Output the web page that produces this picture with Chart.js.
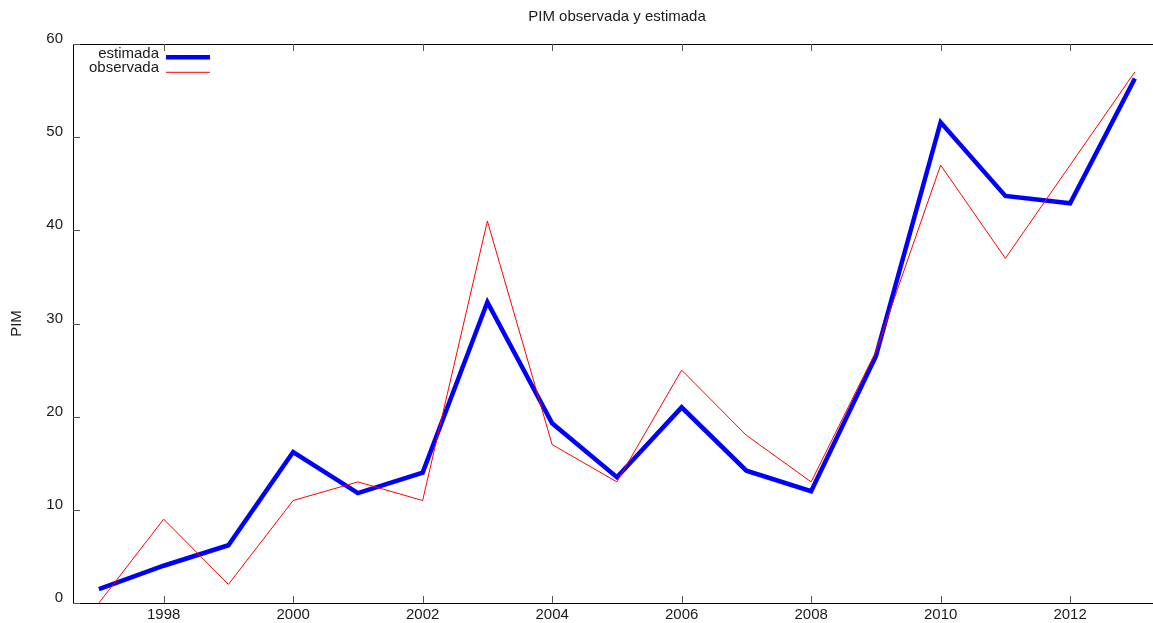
<!DOCTYPE html>
<html>
<head>
<meta charset="utf-8">
<script src="https://cdn.jsdelivr.net/npm/chart.js@4"></script>
<style>
  html, body { margin: 0; padding: 0; background: #fff; }
  canvas { display: block; }
</style>
</head>
<body>
<canvas id="c" width="1153" height="623"></canvas>
<script>
// Annual series
const years = [1997, 1998, 1999, 2000, 2001, 2002, 2003, 2004, 2005, 2006, 2007, 2008, 2009, 2010, 2011, 2012, 2013];
const estimada = [1.5, 4.0, 6.2, 16.2, 11.8, 14.0, 32.3, 19.3, 13.5, 21.0, 14.2, 12.0, 26.5, 51.6, 43.7, 42.9, 56.3];
const observada = [0, 9, 2, 11, 13, 11, 41, 17, 13, 25, 18, 13, 27, 47, 37, 47, 57];

// Axis ticks and texts
const xTickYears = [1998, 2000, 2002, 2004, 2006, 2008, 2010, 2012];
const yTickValues = [0, 10, 20, 30, 40, 50, 60];
const chartTitle = 'PIM observada y estimada';
const yAxisTitle = 'PIM';

const FONT = '"Liberation Sans", Arial, Helvetica, sans-serif';
const TEXT = '#1a1a1a';
Chart.defaults.font.family = FONT;
Chart.defaults.font.size = 15;
Chart.defaults.color = TEXT;

const toPoints = vals => years.map((yr, i) => ({ x: yr, y: vals[i] }));

// Boxed frame with inward tick marks
const frame = {
  id: 'frame',
  beforeDatasetsDraw(chart) {
    const { ctx, chartArea: a, scales: { x, y } } = chart;
    ctx.save();
    ctx.strokeStyle = '#000';
    ctx.lineWidth = 1;
    ctx.strokeRect(Math.round(a.left) + 0.5, Math.round(a.top) + 0.5,
                   Math.round(a.right - a.left), Math.round(a.bottom - a.top));
    ctx.strokeStyle = '#555';
    ctx.beginPath();
    x.ticks.forEach(t => {
      const px = Math.round(x.getPixelForValue(t.value)) + 0.5;
      ctx.moveTo(px, a.bottom); ctx.lineTo(px, a.bottom - 7);
      ctx.moveTo(px, a.top); ctx.lineTo(px, a.top + 7);
    });
    y.ticks.forEach(t => {
      const py = Math.round(y.getPixelForValue(t.value)) + 0.5;
      ctx.moveTo(a.left, py); ctx.lineTo(a.left + 7, py);
    });
    ctx.stroke();
    ctx.restore();
  }
};

// Title above the frame
const topTitle = {
  id: 'topTitle',
  afterDraw(chart) {
    const { ctx, chartArea: a } = chart;
    ctx.save();
    ctx.font = '15px ' + FONT;
    ctx.fillStyle = TEXT;
    ctx.textAlign = 'center';
    ctx.textBaseline = 'middle';
    ctx.fillText(chartTitle, (a.left + a.right) / 2 + 4, 17);
    ctx.restore();
  }
};

// Key in the upper-left corner: right-aligned label followed by a line sample
const key = {
  id: 'key',
  afterDatasetsDraw(chart) {
    const { ctx, chartArea: a } = chart;
    ctx.save();
    ctx.font = '15px ' + FONT;
    ctx.textAlign = 'right';
    ctx.textBaseline = 'alphabetic';
    chart.data.datasets.forEach((ds, i) => {
      ctx.fillStyle = TEXT;
      ctx.fillText(ds.label, a.left + 86, a.top + 14.3 + i * 13.4);
      const sy = a.top + 13.3 + i * 15;
      ctx.strokeStyle = ds.borderColor;
      ctx.lineWidth = ds.borderWidth;
      ctx.beginPath();
      ctx.moveTo(a.left + 93, sy);
      ctx.lineTo(a.left + 137, sy);
      ctx.stroke();
    });
    ctx.restore();
  }
};

new Chart(document.getElementById('c'), {
  type: 'line',
  data: {
    datasets: [
      {
        label: 'estimada',
        data: toPoints(estimada),
        borderColor: '#0000ff',
        borderWidth: 4.5,
        borderJoinStyle: 'miter',
        pointRadius: 0,
        tension: 0,
        fill: false,
        order: 1
      },
      {
        label: 'observada',
        data: toPoints(observada),
        borderColor: '#ff0000',
        borderWidth: 1,
        borderJoinStyle: 'miter',
        pointRadius: 0,
        tension: 0,
        fill: false,
        order: 0
      }
    ]
  },
  options: {
    responsive: false,
    animation: false,
    devicePixelRatio: 1,
    layout: { padding: { top: 44, left: 0, right: 0, bottom: 0 } },
    plugins: {
      legend: { display: false },
      tooltip: { enabled: false },
      title: { display: false }
    },
    scales: {
      x: {
        type: 'linear',
        min: 1996.6,
        max: 2013.28,
        afterBuildTicks: s => { s.ticks = xTickYears.map(v => ({ value: v })); },
        afterFit: s => { s.height = 20; },
        grid: { display: false, drawTicks: false },
        border: { display: false },
        ticks: {
          padding: 3,
          color: TEXT,
          maxRotation: 0,
          autoSkip: false,
          callback: v => String(v)
        }
      },
      y: {
        type: 'linear',
        min: 0,
        max: 60,
        afterBuildTicks: s => { s.ticks = yTickValues.map(v => ({ value: v })); },
        afterFit: s => { s.width = 73; },
        grid: { display: false, drawTicks: false },
        border: { display: false },
        ticks: {
          padding: 10,
          labelOffset: -5,
          color: TEXT,
          callback: v => String(v)
        },
        title: {
          display: true,
          text: yAxisTitle,
          color: TEXT,
          font: { size: 15 },
          padding: { top: 8, bottom: 0 }
        }
      }
    }
  },
  plugins: [frame, key, topTitle]
});
</script>
</body>
</html>
